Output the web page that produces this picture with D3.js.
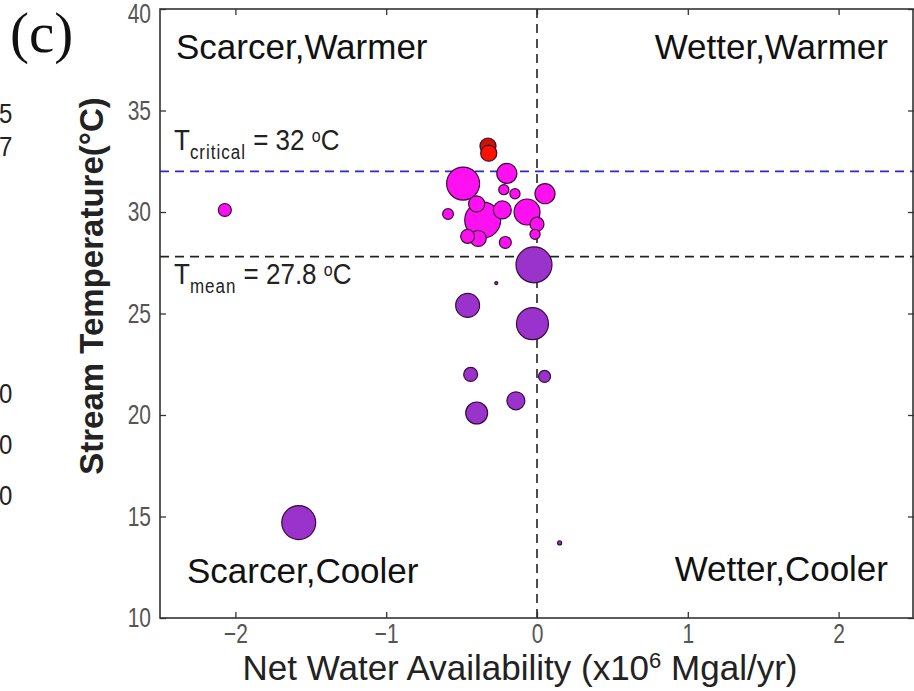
<!DOCTYPE html>
<html>
<head>
<meta charset="utf-8">
<script src="https://cdn.jsdelivr.net/npm/d3@7"></script>
<style>
  html, body { margin: 0; padding: 0; background: #fff; }
  svg { display: block; font-family: Arial, "Liberation Sans", sans-serif; }
</style>
</head>
<body>
<svg id="chart" width="914" height="691"></svg>
<script>
// Net water availability (x10^6 Mgal/yr) per site
const netWater = [
  -0.325, -0.32, -0.49, -0.20, -0.22, -0.146, 0.053, -0.40, -0.36, -0.23,
  -0.066, 0.0, -0.013, -0.46, -0.39, -0.21, -0.59, -2.07,
  -0.02, -0.27, -0.46, -0.03, -0.44, 0.05, -0.14, -0.40, -1.58, 0.15
];
// Stream temperature (°C) per site
const streamTemp = [
  33.25, 32.9, 31.4, 31.9, 31.1, 30.9, 30.9, 30.4, 29.6, 30.1,
  30.0, 29.4, 28.9, 28.8, 28.7, 28.5, 29.9, 30.1,
  27.4, 26.5, 25.4, 24.5, 22.0, 21.9, 20.7, 20.1, 14.7, 13.7
];
// Relative withdrawal per site (marker area)
const withdrawal = [
  20, 20, 84, 31, 8, 8, 31, 20, 100, 25,
  52, 15, 8, 15, 20, 11, 9, 13,
  100, 0.7, 44, 79, 15, 11, 25, 37, 89, 1.2
];

const xTicks = [-2, -1, 0, 1, 2];
const yTicks = [10, 15, 20, 25, 30, 35, 40];
const tCritical = 32;
const tMean = 27.8;
const quadrantLabels = ["Scarcer,Warmer", "Wetter,Warmer", "Scarcer,Cooler", "Wetter,Cooler"];
const edgeDigits = ["5", "7", "0", "0", "0"];

const svg = d3.select("#chart");
const plotLeft = 160, plotRight = 914, plotTop = 9, plotBottom = 618;

const x = d3.scaleLinear().domain([-2.5, 2.5]).range([plotLeft, plotRight]);
const y = d3.scaleLinear().domain([10, 40]).range([plotBottom, plotTop]);
const r = d3.scaleSqrt().domain([0, 100]).range([0, 18]);
const color = d3.scaleThreshold()
  .domain([tMean, tCritical, 33])
  .range(["#9933cc", "#ff10f0", "#ff1100", "#cc1500"]);

// digits belonging to the neighbouring panel at the left edge
const edgeY = [113, 146, 393, 444, 495];
svg.append("g").selectAll("text").data(edgeDigits).join("text")
  .attr("transform", (d, i) => `translate(-1,${edgeY[i] + 10}) scale(1,1.15)`)
  .attr("font-size", 24).attr("fill", "#222").text(d => d);

// panel tag
svg.append("text").attr("x", 10).attr("y", 52)
  .attr("font-family", "'Liberation Serif', 'DejaVu Serif', serif")
  .attr("font-size", 57).attr("fill", "#111").text("(c)");

// reference lines
const plot = svg.append("g");
plot.append("line")
  .attr("x1", x(-2.5)).attr("x2", x(2.5)).attr("y1", y(tCritical)).attr("y2", y(tCritical))
  .attr("stroke", "#2a2ad0").attr("stroke-width", 1.6).attr("stroke-dasharray", "9,6");
plot.append("line")
  .attr("x1", x(-2.5)).attr("x2", x(2.5)).attr("y1", y(tMean)).attr("y2", y(tMean))
  .attr("stroke", "#222").attr("stroke-width", 1.6).attr("stroke-dasharray", "9,6");
plot.append("line")
  .attr("x1", x(0)).attr("x2", x(0)).attr("y1", y(40)).attr("y2", y(10))
  .attr("stroke", "#222").attr("stroke-width", 1.6).attr("stroke-dasharray", "9,6");

// sites, largest first so small markers stay visible
const sites = netWater.map((v, i) => ({ x: v, t: streamTemp[i], w: withdrawal[i], i }))
  .sort((a, b) => d3.descending(a.w, b.w) || d3.ascending(a.i, b.i));
plot.append("g").selectAll("circle").data(sites).join("circle")
  .attr("cx", d => x(d.x)).attr("cy", d => y(d.t)).attr("r", d => r(d.w))
  .attr("fill", d => color(d.t))
  .attr("stroke", "#3a0a3a").attr("stroke-width", 1.2);

// axes with inward ticks on all sides; tick labels are tall and narrow
const axisFont = g => g.selectAll("text").attr("font-size", 21).attr("fill", "#555")
  .attr("font-family", "Arial, 'Liberation Sans', sans-serif")
  .attr("transform", "scale(1,1.3)");
svg.append("g").attr("transform", `translate(0,${plotBottom})`)
  .call(d3.axisBottom(x).tickValues(xTicks).tickSize(-6).tickSizeOuter(0).tickPadding(4).tickFormat(d3.format("d")))
  .call(g => g.select(".domain").remove())
  .call(g => g.selectAll("line").attr("stroke", "#333").attr("stroke-width", 1.3))
  .call(axisFont);
svg.append("g").attr("transform", `translate(${plotLeft},0)`)
  .call(d3.axisLeft(y).tickValues(yTicks).tickSize(-6).tickSizeOuter(0).tickPadding(9))
  .call(g => g.select(".domain").remove())
  .call(g => g.selectAll("line").attr("stroke", "#333").attr("stroke-width", 1.3))
  .call(axisFont)
  .call(g => g.selectAll("text").filter(d => d === 40).attr("y", 4));
svg.append("g").attr("transform", `translate(0,${plotTop})`)
  .call(d3.axisTop(x).tickValues(xTicks).tickSize(-6).tickSizeOuter(0).tickFormat(""))
  .call(g => g.select(".domain").remove())
  .call(g => g.selectAll("line").attr("stroke", "#333").attr("stroke-width", 1.3));
svg.append("g").attr("transform", `translate(${plotRight},0)`)
  .call(d3.axisRight(y).tickValues(yTicks).tickSize(-6).tickSizeOuter(0).tickFormat(""))
  .call(g => g.select(".domain").remove())
  .call(g => g.selectAll("line").attr("stroke", "#333").attr("stroke-width", 1.3));

svg.append("rect")
  .attr("x", plotLeft).attr("y", plotTop).attr("width", plotRight - plotLeft - 1).attr("height", plotBottom - plotTop)
  .attr("fill", "none").attr("stroke", "#333").attr("stroke-width", 1.6);

// quadrant labels
const q = svg.append("g").attr("font-size", 35).attr("fill", "#111");
q.append("text").attr("x", 176).attr("y", 59).text(quadrantLabels[0]);
q.append("text").attr("x", 888).attr("y", 59).attr("text-anchor", "end").text(quadrantLabels[1]);
q.append("text").attr("x", 187).attr("y", 583).text(quadrantLabels[2]);
q.append("text").attr("x", 888).attr("y", 581).attr("text-anchor", "end").text(quadrantLabels[3]);

// threshold annotations
function thresholdLabel(sub, value, baseY) {
  const t = svg.append("text")
    .attr("transform", `translate(174,${baseY}) scale(1,1.15)`)
    .attr("font-size", 26).attr("fill", "#222");
  t.append("tspan").text("T");
  t.append("tspan").attr("dy", 8).attr("font-size", 17).attr("letter-spacing", 1).text(sub);
  t.append("tspan").attr("dy", -8).attr("font-size", 26).text(" = " + value + " ");
  t.append("tspan").attr("dy", -7).attr("font-size", 16).text("o");
  t.append("tspan").attr("dy", 7).attr("font-size", 26).text("C");
}
thresholdLabel("critical", "32", 150);
thresholdLabel("mean", "27.8", 284);

// axis titles
const xt = svg.append("text").attr("x", 520).attr("y", 680).attr("text-anchor", "middle")
  .attr("font-size", 35).attr("fill", "#222");
xt.append("tspan").text("Net Water Availability (x10");
xt.append("tspan").attr("dy", -12).attr("font-size", 22).text("6");
xt.append("tspan").attr("dy", 12).text(" Mgal/yr)");

svg.append("text")
  .attr("transform", "translate(103,286) rotate(-90)")
  .attr("text-anchor", "middle").attr("font-size", 33).attr("font-weight", "bold").attr("fill", "#222")
  .text("Stream Temperature(\u00B0C)");
</script>
</body>
</html>
